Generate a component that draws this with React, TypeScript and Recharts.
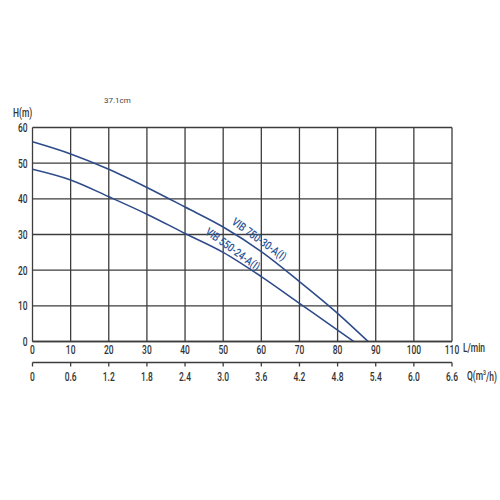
import { ComposedChart, Line, XAxis, YAxis, CartesianGrid, ReferenceDot } from 'recharts';

// Q (L/min) vs H (m)
const flowUpper = [0, 10, 20, 30, 40, 50, 60, 70, 80, 88];
const headUpper = [56, 52.6, 48.3, 43.2, 37.7, 32.1, 25.2, 16.8, 7.9, 0];
const flowLower = [0, 10, 20, 30, 40, 50, 60, 70, 80, 84.2];
const headLower = [48.3, 45.3, 40.6, 35.7, 30.3, 25.0, 18.2, 10.7, 3.2, 0];

const lpmTicks = [0, 10, 20, 30, 40, 50, 60, 70, 80, 90, 100, 110];
const m3hTicks = [0, 0.6, 1.2, 1.8, 2.4, 3.0, 3.6, 4.2, 4.8, 5.4, 6.0, 6.6];
const headTicks = [0, 10, 20, 30, 40, 50, 60];

const upperName = 'VIB 750-30-A(I)';
const lowerName = 'VIB 550-24-A(I)';

const upperData = flowUpper.map((q, i) => ({ q, h: headUpper[i] }));
const lowerData = flowLower.map((q, i) => ({ q, h: headLower[i] }));
// same upper curve in m³/h, only so the second scale gets built
const upperDataM3h = flowUpper.map((q, i) => ({ m3h: (q * 60) / 1000, h: headUpper[i] }));

const FONT = 'Roboto, "DejaVu Sans", sans-serif';
const GRID = '#3d3d3d';
const CURVE = '#2f4c8a';
const TEXT = '#333';
const SQUEEZE = 0.65; // the sheet uses a very narrow typeface

// tick text squeezed horizontally around its anchor point
const NarrowTick = (props: any) => {
  const { x, y, payload, textAnchor, verticalAnchor, tickFormatter } = props;
  const dy = verticalAnchor === 'start' ? '0.71em' : '0.35em';
  const value = tickFormatter ? tickFormatter(payload.value) : payload.value;
  return (
    <g transform={`translate(${x},${y})`}>
      <text
        transform={`scale(${SQUEEZE},1)`}
        textAnchor={textAnchor}
        dy={dy}
        fontSize={13}
        fontWeight={500}
        fontFamily={FONT}
        fill={TEXT}
      >
        {value}
      </text>
    </g>
  );
};

const NarrowText = ({ x, y, children }: { x: number; y: number; children: any }) => (
  <g transform={`translate(${x},${y})`}>
    <text
      transform={`scale(${SQUEEZE},1)`}
      dominantBaseline="middle"
      fontSize={13}
      fontWeight={500}
      fontFamily={FONT}
      fill={TEXT}
    >
      {children}
    </text>
  </g>
);

const AxisName = (text: any, dx: number, dy: number) => (props: any) => {
  const vb = props.viewBox;
  return (
    <NarrowText x={vb.x + vb.width + dx} y={vb.y + dy}>
      {text}
    </NarrowText>
  );
};

const HeadName = (props: any) => {
  const vb = props.viewBox;
  return (
    <NarrowText x={vb.x + 13} y={vb.y - 14}>
      H(m)
    </NarrowText>
  );
};

const CurveLabel = (text: string) => (p: any) => (
  <g transform={`translate(${p.cx},${p.cy}) rotate(36)`}>
    <text
      transform="scale(0.8,1)"
      textAnchor="middle"
      dominantBaseline="middle"
      fontSize={11.5}
      fontWeight={500}
      fontFamily={FONT}
      fill="#2e5597"
    >
      {text}
    </text>
  </g>
);

export default function App() {
  return (
    <div style={{ position: 'absolute', left: 0, top: 0, width: 500, height: 500, background: '#fff' }}>
      <div
        style={{
          position: 'absolute',
          left: 104,
          top: 96,
          fontSize: 8,
          color: '#444',
          fontFamily: FONT,
        }}
      >
        37.1cm
      </div>
      <ComposedChart width={500} height={500} margin={{ top: 127.5, right: 48, bottom: 112.5, left: 0 }}>
        <CartesianGrid xAxisId="lpm" stroke={GRID} strokeWidth={1.3} />
        <XAxis
          xAxisId="lpm"
          type="number"
          dataKey="q"
          domain={[0, 110]}
          ticks={lpmTicks}
          interval={0}
          height={21}
          axisLine={{ stroke: GRID, strokeWidth: 1.3 }}
          tickLine={false}
          tickSize={0}
          tickMargin={3}
          tick={<NarrowTick />}
          label={{ content: AxisName('L/min', 11, 7) }}
        />
        <XAxis
          xAxisId="m3h"
          type="number"
          dataKey="m3h"
          domain={[0, 6.6]}
          allowDataOverflow
          ticks={m3hTicks}
          interval={0}
          height={25}
          axisLine={{ stroke: GRID, strokeWidth: 1.3 }}
          tickLine={{ stroke: GRID, strokeWidth: 1.3 }}
          tickSize={4}
          tickMargin={5}
          tick={<NarrowTick />}
          tickFormatter={(v: number) => (v === 0 ? '0' : v.toFixed(1))}
          label={{
            content: AxisName(
              <>
                Q(m<tspan dy={-4} fontSize={8}>3</tspan>
                <tspan dy={4}>/h)</tspan>
              </>,
              15,
              14.5
            ),
          }}
        />
        <YAxis
          type="number"
          domain={[0, 60]}
          ticks={headTicks}
          interval={0}
          width={32.5}
          axisLine={false}
          tickLine={false}
          tickSize={0}
          tickMargin={5}
          tick={<NarrowTick />}
          label={{ content: HeadName }}
        />
        <Line
          xAxisId="m3h"
          data={upperDataM3h}
          dataKey="h"
          type="monotone"
          stroke="none"
          dot={false}
          activeDot={false}
          legendType="none"
          isAnimationActive={false}
        />
        <Line
          xAxisId="lpm"
          data={upperData}
          dataKey="h"
          type="monotone"
          stroke={CURVE}
          strokeWidth={1.6}
          dot={false}
          isAnimationActive={false}
        />
        <Line
          xAxisId="lpm"
          data={lowerData}
          dataKey="h"
          type="monotone"
          stroke={CURVE}
          strokeWidth={1.6}
          dot={false}
          isAnimationActive={false}
        />
        <ReferenceDot xAxisId="lpm" x={59.3} y={28.5} r={0} shape={CurveLabel(upperName)} />
        <ReferenceDot xAxisId="lpm" x={52.4} y={25.7} r={0} shape={CurveLabel(lowerName)} />
      </ComposedChart>
    </div>
  );
}
